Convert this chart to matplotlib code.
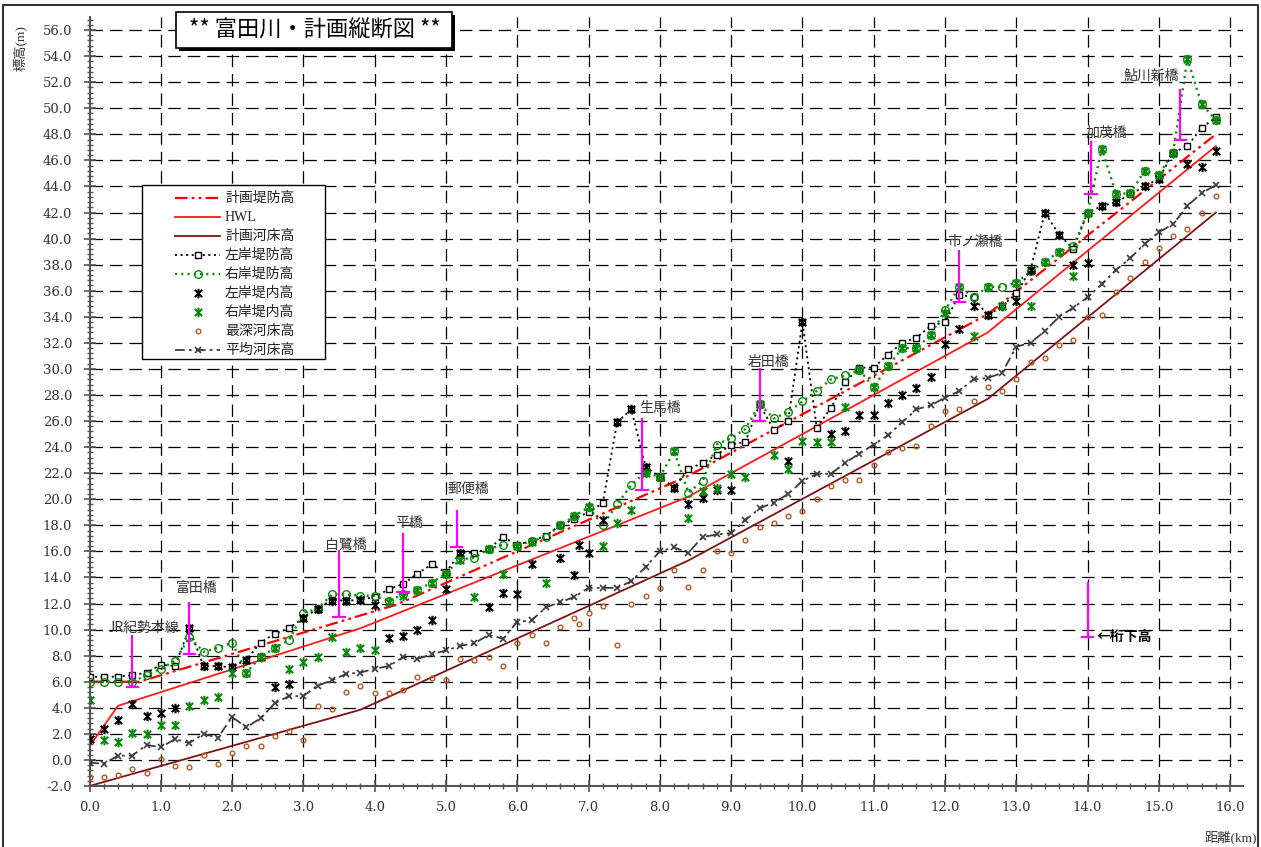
import matplotlib
matplotlib.use("Agg")
import numpy as np
import matplotlib.pyplot as plt
from matplotlib.patches import Rectangle
from matplotlib.path import Path
from matplotlib.ticker import MultipleLocator, FormatStrFormatter

plt.rcParams['font.family'] = ['DejaVu Serif', 'Noto Sans CJK JP']
plt.rcParams['lines.scale_dashes'] = False

JP_SANS = ['Noto Sans CJK JP', 'DejaVu Sans']
JP_SERIF = ['Liberation Serif', 'Noto Sans CJK JP']

nan = np.nan

# 測点距離 (km)
distance_km = [0.0, 0.2, 0.4, 0.6, 0.8, 1.0, 1.2, 1.4, 1.6, 1.8,
               2.0, 2.2, 2.4, 2.6, 2.8, 3.0, 3.2, 3.4, 3.6, 3.8,
               4.0, 4.2, 4.4, 4.6, 4.8, 5.0, 5.2, 5.4, 5.6, 5.8,
               6.0, 6.2, 6.4, 6.6, 6.8, 7.0, 7.2, 7.4, 7.6, 7.8,
               8.0, 8.2, 8.4, 8.6, 8.8, 9.0, 9.2, 9.4, 9.6, 9.8,
               10.0, 10.2, 10.4, 10.6, 10.8, 11.0, 11.2, 11.4, 11.6, 11.8,
               12.0, 12.2, 12.4, 12.6, 12.8, 13.0, 13.2, 13.4, 13.6, 13.8,
               14.0, 14.2, 14.4, 14.6, 14.8, 15.0, 15.2, 15.4, 15.6, 15.8]

# 左岸堤防高
left_dike = [6.4, 6.35, 6.4, 6.5, 6.7, 7.3, 7.2, 10.1, 7.2, 7.2,
             7.1, 7.7, 9.0, 9.7, 10.1, 10.9, 11.6, 12.3, 12.2, 12.3,
             12.5, 13.1, 13.5, 14.3, 15.0, 14.4, 15.9, 15.9, 16.2, 17.1,
             16.5, 16.8, 17.2, 18.0, 18.5, 19.0, 19.7, 25.9, 26.9, 22.5,
             21.7, 20.9, 22.3, 22.8, 23.4, 24.2, 24.4, 27.3, 25.3, 26.0,
             33.6, 25.5, 27.0, 29.0, 30.1, 30.1, 31.1, 32.0, 32.4, 33.3,
             33.6, 35.7, 35.5, 34.1, 34.8, 35.8, 37.6, 42.0, 40.3, 39.2,
             42.0, 42.5, 42.8, 43.4, 44.0, 44.6, 46.6, 47.1, 48.5, 49.3]

# 右岸堤防高
right_dike = [6.0, 6.0, 6.0, 6.0, 6.5, 7.0, 7.6, 9.4, 8.3, 8.6,
              9.0, 6.7, 7.9, 8.6, 9.2, 11.3, 11.6, 12.7, 12.7, 12.6,
              12.6, 12.2, 12.7, 13.05, 13.6, 14.3, 15.4, 15.5, 16.2, 16.5,
              16.45, 16.8, 17.1, 18.0, 18.7, 19.4, 18.0, 19.6, 21.1, 22.1,
              21.7, 23.7, 20.5, 21.4, 24.2, 24.7, 25.4, 27.3, 26.2, 26.7,
              27.5, 28.3, 29.2, 29.5, 29.9, 28.6, 30.2, 31.6, 31.6, 32.6,
              34.5, 36.3, 35.5, 36.3, 36.3, 36.6, 37.5, 38.2, 39.0, 39.4,
              42.0, 46.9, 43.4, 43.5, 45.2, 44.9, 46.6, 53.8, 50.3, 49.1]

# 左岸堤内高
left_inland = [1.6, 2.35, 3.1, 4.3, 3.4, 3.6, 4.0, 10.1, 7.2, 7.2,
               7.1, 7.7, 7.9, 5.6, 5.8, 10.9, 11.6, 12.2, 12.2, 12.3,
               11.9, 9.35, 9.5, 10.0, 10.7, 13.1, 15.9, nan, 11.7, 12.8,
               12.7, 15.0, nan, 15.5, 14.2, 15.9, 18.4, 25.9, 26.9, 22.5,
               21.7, 20.9, 19.6, 20.1, 20.7, 20.7, nan, nan, nan, 22.9,
               33.6, nan, 25.0, 25.2, 26.5, 26.5, 27.4, 28.0, 28.5, 29.4,
               31.9, 33.05, 34.8, 34.1, 34.8, 35.2, 37.6, 42.0, 40.3, 38.0,
               38.1, 42.5, 42.8, nan, 44.0, 44.6, 46.6, 45.7, 45.5, 46.7]

# 右岸堤内高
right_inland = [4.6, 1.55, 1.35, 2.05, 2.0, 2.7, 2.7, 4.1, 4.6, 4.85,
                6.7, 6.7, 7.9, 8.6, 7.0, 7.5, 7.9, 9.4, 8.3, 8.6,
                8.4, 12.15, 12.6, 13.0, 13.6, 14.3, 15.35, 12.5, 16.2, 14.3,
                16.45, 16.75, 13.6, 18.0, 18.7, 19.4, 16.4, 18.2, 19.2, 22.05,
                21.7, 23.7, 18.6, 20.6, 20.85, 21.9, 21.7, 27.3, 23.4, 22.3,
                24.5, 24.4, 24.4, 27.1, 29.9, 28.6, 30.2, 31.6, 31.6, 32.6,
                34.3, 36.3, 32.5, 36.3, 34.8, 36.6, 34.8, 38.2, 39.0, 37.1,
                42.0, 46.9, 43.4, 43.5, 45.2, 44.9, 46.6, 53.8, 50.3, 49.1]

# 最深河床高
deepest_bed = [-1.33, -1.33, -1.15, -0.72, -0.97, 0.05, -0.43, -0.56, 0.38, -0.3,
               0.5, 1.07, 1.07, 1.87, 2.2, 1.5, 4.1, 3.9, 5.2, 5.7,
               5.1, 5.1, 5.4, 6.4, 6.3, 6.1, 7.75, 7.7, 7.9, 7.2,
               8.95, 9.6, 8.95, 10.2, 10.9, 11.3, 11.8, 8.8, 12.0, 12.6,
               13.2, 14.6, 13.25, 14.6, 16.0, 15.9, 16.85, 17.9, 18.2, 18.7,
               19.1, 20.0, 21.0, 21.5, 21.5, 22.6, 23.6, 23.9, 24.1, 25.6,
               26.8, 26.9, 27.55, 28.6, 28.3, 29.2, 30.5, 30.8, 31.8, 32.2,
               34.0, 34.1, 35.9, 37.0, 38.2, 39.3, 40.2, 40.7, 42.0, 43.3]

# 平均河床高
average_bed = [-0.2, -0.3, 0.33, 0.33, 1.15, 0.97, 1.6, 1.3, 2.0, 1.7,
               3.3, 2.5, 3.2, 4.35, 4.9, 4.9, 5.7, 6.1, 6.6, 6.7,
               7.0, 7.2, 7.9, 7.75, 8.1, 8.4, 8.75, 8.95, 9.6, 9.3,
               10.6, 10.7, 11.7, 12.1, 12.5, 13.2, 13.2, 13.2, 13.7, 14.8,
               16.0, 16.3, 15.9, 17.1, 17.3, 17.4, 18.4, 19.3, 19.75, 20.4,
               21.4, 21.95, 21.95, 22.8, 23.5, 24.2, 24.9, 25.9, 26.9, 27.2,
               27.8, 28.3, 29.2, 29.3, 29.7, 31.7, 32.0, 32.9, 34.0, 34.7,
               35.5, 36.5, 37.6, 38.5, 39.6, 40.5, 41.1, 42.5, 43.5, 44.1]

# 追加測点 (6.86 km)
extra_km = [6.86]
extra_left_inland = [16.5]
extra_deepest_bed = [10.4]

# 計画線 (変化点)
plan_dike_km = [0.0, 0.7, 4.3, 8.4, 12.6, 15.8]
plan_dike = [6.0, 6.0, 11.9, 21.8, 34.2, 48.0]
hwl_km = [0.0, 0.4, 3.8, 8.4, 12.6, 15.8]
hwl = [1.05, 4.15, 10.1, 20.2, 32.8, 47.1]
plan_bed_km = [0.0, 3.8, 8.4, 12.6, 15.8]
plan_bed = [-2.0, 3.85, 15.3, 27.7, 42.0]

# 橋梁 (位置, 上端, 桁下高)
bridge_names = ['JR紀勢本線', '富田橋', '白鷺橋', '平橋', '郵便橋',
                '生馬橋', '岩田橋', '市ノ瀬橋', '加茂橋', '鮎川新橋']
bridge_km = [0.6, 1.4, 3.5, 4.4, 5.15, 7.75, 9.4, 12.2, 14.05, 15.3]
bridge_top = [9.6, 12.15, 16.1, 17.4, 19.2, 26.2, 30.1, 39.1, 47.5, 51.5]
bridge_girder = [5.6, 8.1, 10.95, 12.85, 16.3, 20.7, 26.0, 35.1, 43.4, 47.6]
# ラベル位置 (km, 標高)
label_km = [0.75, 1.51, 3.6, 4.49, 5.31, 8.0, 9.52, 12.42, 14.26, 14.9]
label_el = [10.1, 13.2, 16.5, 18.2, 20.8, 27.0, 30.5, 39.7, 48.1, 52.5]

# 桁下高の見本
sample_km = 14.0
sample_top = 13.55
sample_girder = 9.45

# ---------------------------------------------------------------
W, H = 1261, 847
fig = plt.figure(figsize=(W / 100, H / 100), dpi=100)
fig.patch.set_facecolor('white')

left_px, right_px, top_px, bottom_px = 89.5, 1243, 17, 786
ax = fig.add_axes([left_px / W, 1 - bottom_px / H,
                   (right_px - left_px) / W, (bottom_px - top_px) / H])
ax.set_xlim(0, 16.18)
ax.set_ylim(-2.0, 57.0)
ax.set_facecolor('white')

for s in ('top', 'right'):
    ax.spines[s].set_visible(False)
for s in ('left', 'bottom'):
    ax.spines[s].set_color('#555555')
    ax.spines[s].set_linewidth(1.5)

ax.xaxis.set_major_locator(MultipleLocator(1.0))
ax.xaxis.set_minor_locator(MultipleLocator(0.2))
ax.yaxis.set_major_locator(MultipleLocator(2.0))
ax.yaxis.set_minor_locator(MultipleLocator(0.4))
ax.xaxis.set_major_formatter(FormatStrFormatter('%.1f'))
ax.yaxis.set_major_formatter(FormatStrFormatter('%.1f'))
ax.tick_params(which='major', direction='inout', length=9, width=1.2,
               colors='#555555', labelcolor='#333333', labelsize=9.5, pad=6)
ax.tick_params(which='minor', direction='inout', length=5, width=1.0,
               colors='#555555')
ax.tick_params(axis='y', which='major', pad=8)

grid_style = dict(color='black', linewidth=0.9, linestyle=(0, (9, 5)), zorder=0.5)
for gx in range(1, 17):
    ax.axvline(gx, **grid_style)
for gy in range(0, 57, 2):
    ax.axhline(gy, **grid_style)

GREEN = '#0a8a0a'
BROWN = '#b8561e'
MAROON = '#7d1414'
GRAY = '#3c3c3c'

asterisk = Path([(0, -1), (0, 1), (-0.78, -0.78), (0.78, 0.78), (-0.78, 0.78), (0.78, -0.78)],
                [Path.MOVETO, Path.LINETO, Path.MOVETO, Path.LINETO, Path.MOVETO, Path.LINETO])

styles = {}
styles['plan_dike'] = dict(color='#ff0000', lw=1.6, linestyle=(0, (9, 3, 2, 3, 2, 3)))
styles['hwl'] = dict(color='#ff1a1a', lw=1.3, linestyle='-')
styles['plan_bed'] = dict(color=MAROON, lw=1.3, linestyle='-')
styles['left_dike'] = dict(color='black', lw=1.3, linestyle=(0, (1.5, 2.5)),
                           marker='s', ms=5, mfc='white', mec='black', mew=1.0)
styles['right_dike'] = dict(color=GREEN, lw=1.7, linestyle=(0, (1.5, 3)),
                            marker='o', ms=5.5, mfc='none', mec=GREEN, mew=1.0)
styles['left_inland'] = dict(color='black', linestyle='none', marker=asterisk,
                             ms=6.8, mfc='none', mec='black', mew=1.5)
styles['right_inland'] = dict(color=GREEN, linestyle='none', marker=asterisk,
                              ms=6.8, mfc='none', mec=GREEN, mew=1.5)
styles['deepest_bed'] = dict(color=BROWN, linestyle='none', marker='o', ms=3.4,
                             mfc='none', mec=BROWN, mew=1.0)
styles['average_bed'] = dict(color=GRAY, lw=1.3, linestyle=(0, (7, 3, 2, 3)),
                             marker='x', ms=4, mec=GRAY, mew=1.2)

ax.plot(plan_bed_km, plan_bed, zorder=2, **styles['plan_bed'])
ax.plot(hwl_km, hwl, zorder=2, **styles['hwl'])
ax.plot(plan_dike_km, plan_dike, zorder=2, **styles['plan_dike'])
ax.plot(distance_km, average_bed, zorder=3, **styles['average_bed'])
ax.plot(distance_km, deepest_bed, zorder=3, **styles['deepest_bed'])
ax.plot(extra_km, extra_deepest_bed, zorder=3, **styles['deepest_bed'])
ax.plot(distance_km, left_dike, zorder=4, **styles['left_dike'])
ax.plot(distance_km, right_dike, zorder=4, **styles['right_dike'])
ax.plot(distance_km, left_inland, zorder=5, **styles['left_inland'])
ax.plot(extra_km, extra_left_inland, zorder=5, **styles['left_inland'])
ax.plot(distance_km, right_inland, zorder=5, **styles['right_inland'])

# 橋梁
MAGENTA = '#ff00ff'
for name, bk, bt, bg, lk, le in zip(bridge_names, bridge_km, bridge_top, bridge_girder,
                                     label_km, label_el):
    ax.plot([bk, bk], [bg, bt], color=MAGENTA, lw=1.6, zorder=6, solid_capstyle='butt')
    ax.plot([bk - 0.08, bk + 0.08], [bg, bg], color=MAGENTA, lw=1.6, zorder=6)
    ax.text(lk, le, name, family=JP_SANS, fontsize=10, color='#333333',
            ha='center', va='center', zorder=7)

ax.plot([sample_km, sample_km], [sample_girder, sample_top], color=MAGENTA, lw=1.6, zorder=6)
ax.plot([sample_km - 0.08, sample_km + 0.08], [sample_girder, sample_girder],
        color=MAGENTA, lw=1.6, zorder=6)
ax.text(sample_km + 0.13, sample_girder, '←桁下高', family=JP_SANS, fontsize=10,
        fontweight='bold', color='black', ha='left', va='center', zorder=7)

# ---------------------------------------------------------------
# 注記レイヤ (ピクセル座標)
ov = fig.add_axes([0, 0, 1, 1])
ov.set_xlim(0, W)
ov.set_ylim(H, 0)
ov.axis('off')

# 外枠
ov.plot([3, 3, 1258, 1258], [H + 5, 5, 5, H + 5], color='#333333', lw=1.5,
        clip_on=False)

# 表題
ov.add_patch(Rectangle((179, 15), 276, 36, facecolor='black', edgecolor='none', zorder=10))
ov.add_patch(Rectangle((176, 12), 276, 36, facecolor='white', edgecolor='black',
                       lw=1.2, zorder=11))
ov.text(315, 30.5, '** 富田川・計画縦断図 **', family=JP_SANS, fontsize=16,
        ha='center', va='center', color='black', zorder=12)

# 軸ラベル
ov.text(20, 48, '標高(m)', family=JP_SERIF, fontsize=9.5, rotation=90,
        ha='center', va='center', color='#333333')
ov.text(1257, 837, '距離(km)', family=JP_SERIF, fontsize=9.5,
        ha='right', va='center', color='#333333')

# 凡例
ov.add_patch(Rectangle((141.5, 185), 183.5, 174, facecolor='white', edgecolor='black',
                       lw=1.0, zorder=10))
legend_rows = [
    ('計画堤防高', 'plan_dike'),
    ('HWL', 'hwl'),
    ('計画河床高', 'plan_bed'),
    ('左岸堤防高', 'left_dike'),
    ('右岸堤防高', 'right_dike'),
    ('左岸堤内高', 'left_inland'),
    ('右岸堤内高', 'right_inland'),
    ('最深河床高', 'deepest_bed'),
    ('平均河床高', 'average_bed'),
]
marker_keys = ('marker', 'ms', 'mfc', 'mec', 'mew')
for i, (label, key) in enumerate(legend_rows):
    y = 198.5 + 19.0 * i
    st = dict(styles[key])
    ov.plot([175, 220], [y, y], zorder=11,
            **{k: v for k, v in st.items() if k not in marker_keys})
    if 'marker' in st:
        ov.plot([197.5], [y], zorder=12, linestyle='none', marker=st['marker'],
                ms=st.get('ms', 5), mfc=st.get('mfc', 'none'),
                mec=st.get('mec', st['color']), mew=st.get('mew', 1.0))
    ov.text(225, y, label, family=JP_SERIF, fontsize=10, ha='left', va='center',
            color='#222222', zorder=12)

fig.savefig('out.png', dpi=100)
